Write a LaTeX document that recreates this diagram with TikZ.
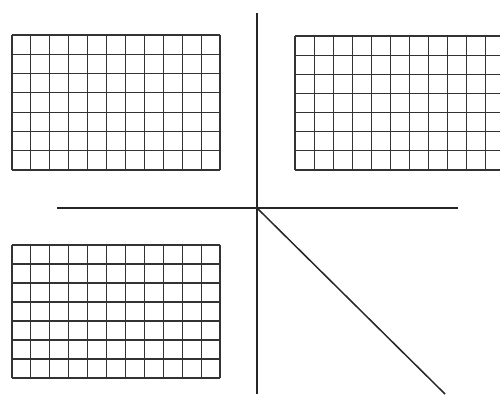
\documentclass[tikz,border=0pt]{standalone}
\begin{document}
\begin{tikzpicture}[x=1pt,y=-1pt,
  gridline/.style={draw=black!80,line width=1.1pt},
  axisline/.style={draw=black!85,line width=1.5pt}]
\useasboundingbox (0,0) rectangle (500,394);
\clip (0,0) rectangle (500,394);
% grids
\foreach \xa/\ya/\xb/\yb in {12/35/220/170, 295/36/505/170, 12/245/220/378}{
  \foreach \i in {0,...,11}{
    \draw[gridline] ({\xa+\i*(\xb-\xa)/11},\ya) -- ({\xa+\i*(\xb-\xa)/11},\yb);
  }
  \foreach \j in {0,...,7}{
    \draw[gridline] (\xa,{\ya+\j*(\yb-\ya)/7}) -- (\xb,{\ya+\j*(\yb-\ya)/7});
  }
}
% axes
\coordinate (o) at (257,208);
\coordinate (top) at (257,13);
\coordinate (bot) at (257,394);
\coordinate (left) at (57,208);
\coordinate (right) at (458,208);
\coordinate (diag) at (445,394);
\draw[axisline] (top) -- (bot);
\draw[axisline] (left) -- (right);
\draw[axisline] (o) -- (diag);
\end{tikzpicture}
\end{document}
